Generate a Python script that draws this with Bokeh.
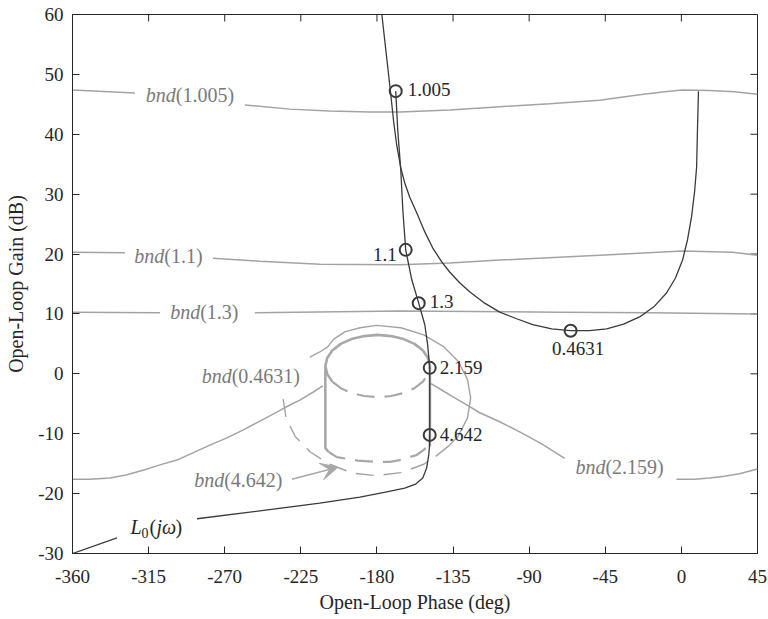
from bokeh.plotting import figure
from bokeh.models import Label, FixedTicker, Arrow, VeeHead
from bokeh.embed import file_html
from bokeh.resources import INLINE

NaN = float("nan")

# ---------------- ticks ----------------
x_ticks = [-360, -315, -270, -225, -180, -135, -90, -45, 0, 45]
x_tick_labels = ["-360", "-315", "-270", "-225", "-180", "-135", "-90", "-45", "0", "45"]
y_ticks = [-30, -20, -10, 0, 10, 20, 30, 40, 50, 60]
y_tick_labels = ["-30", "-20", "-10", "0", "10", "20", "30", "40", "50", "60"]
x_lim = (-360, 45)
y_lim = (-30, 60)

# ---------------- nominal open loop L0(jw) ----------------
l0_phase = [-168.9, -167.7, -165.9, -164.7, -163.0, -159.4, -155.3, -151.7, -150.0, -148.8,
            -148.8, -148.8, -148.9, -149.4, -150.6, -152.9, -157.1, -163.6, -174.2, -190.1,
            -213.8, -255.1, -286.4, NaN, -333.7, -360.0]
l0_gain = [47.2, 40.7, 34.0, 27.4, 20.7, 15.7, 11.8, 8.2, 4.8, 1.0,
           -4.4, -10.2, -12.0, -13.6, -15.7, -17.4, -18.4, -19.1, -19.7, -20.6,
           -21.6, -23.1, -24.2, NaN, -27.4, -30.0]

# U-shaped dark curve through the 0.4631 point
u_phase = [-177.1, -175.4, -173.6, -171.8, -170.1, -168.3, -165.9, -163.6, -160.6, -156.5,
           -151.7, -147.0, -141.7, -137.0, -131.1, -125.2, -116.3, -107.4, -97.4, -87.9,
           -76.7, -65.5, -54.3, -44.2, -34.2, -24.7, -15.9, -8.8, -3.5, 0.7,
           3.6, 6.0, 7.8, 9.0, 9.5, 10.1]
u_gain = [60.0, 55.7, 51.2, 46.6, 42.05, 38.2, 34.4, 31.9, 29.5, 26.9,
          23.7, 21.0, 18.7, 17.0, 15.2, 13.7, 11.8, 10.3, 9.2, 8.2,
          7.5, 7.2, 7.2, 7.5, 8.3, 9.5, 11.3, 13.5, 16.0, 19.0,
          22.35, 26.2, 30.4, 34.5, 40.7, 47.2]

# frequency markers
marker_freqs = ["1.005", "1.1", "1.3", "2.159", "4.642", "0.4631"]
marker_phase = [-168.9, -163.0, -155.3, -148.8, -148.8, -65.5]
marker_gain = [47.2, 20.7, 11.8, 1.0, -10.2, 7.2]

# ---------------- bounds ----------------
bnd1005_phase = [-360, -323.1, NaN, -258.1, -231.5, -207.9, -184.2, -166.5, -137.0, -107.4,
                 -77.9, -48.4, -24.7, -10.0, 0.7, 16.6, 31.4, 45]
bnd1005_gain = [47.4, 46.9, NaN, 44.9, 44.2, 43.9, 43.7, 43.7, 44.05, 44.6,
                45.1, 45.7, 46.6, 47.1, 47.4, 47.3, 47.1, 46.7]

bnd11_phase = [-360, -329.0, NaN, -277.0, -249.2, -213.8, -166.5, -137.0, -107.4, -48.4, 0.7, 30.2, 45]
bnd11_gain = [20.3, 20.2, NaN, 19.3, 18.8, 18.3, 18.2, 18.5, 19.0, 19.8, 20.5, 20.3, 19.8]

bnd13_phase = [-360, -308.3, NaN, -252.2, -166.5, -72.0, -18.8, 45]
bnd13_gain = [10.3, 10.2, NaN, 10.2, 10.5, 10.3, 10.2, 10.0]

bnd2159_phase = [-360, -349.7, -337.8, -328.4, -318.3, -308.3, -298.3, -288.8, -278.8, -268.7,
                 -259.3, -249.2, -239.2, -231.5, -225.6, -218.5, -212.0, NaN,
                 -148.8, -141.7, -134.0, -126.9, -119.2, -107.4, -95.6, -82.6, -69.0, NaN,
                 -2.9, 7.8, 16.6, 25.5, 34.4, 45]
bnd2159_gain = [-17.6, -17.6, -17.4, -16.9, -16.1, -15.2, -14.4, -13.2, -11.9, -10.7,
                -9.4, -7.9, -6.4, -5.2, -4.4, -3.2, -2.0, NaN,
                -1.5, -2.7, -4.0, -5.2, -6.5, -8.0, -9.7, -11.7, -14.1, NaN,
                -17.6, -17.6, -17.4, -17.1, -16.7, -15.9]

# closed bound around the template (solid upper part, dashed lower part)
bnd04631_solid_phase = [-219.7, -213.8, -209.1, -205.5, -199.0, -190.1, -180.1, -165.9, -152.3,
                        -140.8, -132.0, -126.5, -124.6, -126.5, -132.0, -137.0]
bnd04631_solid_gain = [2.8, 3.65, 4.5, 5.8, 7.0, 7.7, 8.1, 7.7, 6.5,
                       4.6, 2.1, -0.9, -4.0, -7.4, -10.4, -11.9]
bnd04631_dash_phase = [-137.0, -145.8, -152.3, -165.9, -180.1, -194.3, -207.9, -219.4, -228.2,
                       -233.7, -235.6, -235.0]
bnd04631_dash_gain = [-11.9, -13.9, -15.1, -16.5, -17.0, -16.6, -15.1, -13.05, -10.5,
                      -7.4, -4.0, -2.7]

# template "cylinder"
cyl_solid_phase = [-210.5, -209.4, -206.4, -201.4, -195.1, -187.6, -179.6, -171.6, -164.2, -157.8,
                   -152.8, -149.8, -148.7, NaN,
                   -206.4, -209.4, -210.5, -210.5, -208.5, NaN,
                   -148.7, -148.7]
cyl_solid_gain = [1.3, 2.65, 3.9, 5.0, 5.8, 6.3, 6.5, 6.3, 5.8, 5.0,
                  3.9, 2.65, 1.3, NaN,
                  -1.3, -0.05, 1.3, -12.4, -13.05, NaN,
                  1.3, -12.1]
cyl_dash_phase = [-206.4, -201.4, -195.1, -187.6, -179.6, -171.6, -164.2, -157.8, -152.8, -149.8,
                  -148.7, NaN,
                  -208.5, -203.7, -191.3, -180.1, -172.4, -166.5, -156.5, -152.3, -150.0, -148.7]
cyl_dash_gain = [-1.3, -2.4, -3.2, -3.7, -3.9, -3.7, -3.2, -2.4, -1.3, -0.05,
                 1.3, NaN,
                 -13.05, -13.9, -14.5, -14.7, -14.7, -14.4, -13.55, -12.7, -12.05, -12.1]

# bound labels: value text, phase of split between "bnd" and "(...)", gain
bnd_label_values = ["(1.005)", "(1.1)", "(1.3)", "(0.4631)", "(4.642)", "(2.159)"]
bnd_label_phase = [-298.9, -305.7, -284.5, -265.9, -270.3, -44.9]
bnd_label_gain = [46.6, 19.6, 10.4, -0.4, -17.7, -15.6]

# frequency marker label placement
mlabel_phase = [-161.8, -168.3, -148.8, -142.9, -142.9, -61.1]
mlabel_gain = [47.4, 20.0, 12.0, 1.0, -10.2, 4.3]
mlabel_align = ["left", "right", "left", "left", "left", "center"]

arrow_start = (-230.3, -17.6)
arrow_end = (-203.1, -15.6)

l0_label_pos = (-325.7, -25.6)

# ---------------- styles ----------------
FONT = "Liberation Serif"
AXIS = "#262626"
DARK = "#3a3a3a"
GRAY = "#a3a3a3"
CYL = "#a8a8a8"
GRAYTXT = "#7a7a7a"
FRAME_W, FRAME_H = 685, 539
TICK_LEN = 7

p = figure(frame_width=FRAME_W, frame_height=FRAME_H, x_range=x_lim, y_range=y_lim,
           output_backend="svg", toolbar_location=None,
           min_border_left=72, min_border_right=10, min_border_top=14, min_border_bottom=50,
           background_fill_color="white", border_fill_color="white")
p.outline_line_color = AXIS
p.outline_line_width = 1
p.xgrid.visible = False
p.ygrid.visible = False

xa = p.below[0]
ya = p.left[0]
xa.ticker = FixedTicker(ticks=x_ticks)
ya.ticker = FixedTicker(ticks=y_ticks)
xa.major_label_overrides = {t: s for t, s in zip(x_ticks, x_tick_labels)}
ya.major_label_overrides = {t: s for t, s in zip(y_ticks, y_tick_labels)}
xa.axis_label = "Open-Loop Phase (deg)"
ya.axis_label = "Open-Loop Gain (dB)"

for ax in (xa, ya):
    ax.axis_line_color = AXIS
    ax.axis_line_width = 1
    ax.major_tick_line_color = AXIS
    ax.major_tick_in = TICK_LEN
    ax.major_tick_out = 0
    ax.minor_tick_line_color = None
    ax.major_label_text_font = FONT
    ax.major_label_text_color = AXIS
    ax.major_label_text_font_size = "19px"
    ax.axis_label_text_font = FONT
    ax.axis_label_text_font_style = "normal"
    ax.axis_label_text_color = AXIS
    ax.axis_label_text_font_size = "20px"
xa.major_label_standoff = 16
xa.axis_label_standoff = 5
ya.major_label_standoff = 9
ya.axis_label_standoff = 8

# inward ticks on the top and right edges of the box
dy_tick = TICK_LEN * (y_lim[1] - y_lim[0]) / FRAME_H
dx_tick = TICK_LEN * (x_lim[1] - x_lim[0]) / FRAME_W
p.segment(x0=x_ticks, y0=[y_lim[1]] * len(x_ticks), x1=x_ticks,
          y1=[y_lim[1] - dy_tick] * len(x_ticks), line_color=AXIS, line_width=1)
p.segment(x0=[x_lim[1]] * len(y_ticks), y0=y_ticks, x1=[x_lim[1] - dx_tick] * len(y_ticks),
          y1=y_ticks, line_color=AXIS, line_width=1)

# bounds
for xs, ys in ((bnd1005_phase, bnd1005_gain), (bnd11_phase, bnd11_gain),
               (bnd13_phase, bnd13_gain), (bnd2159_phase, bnd2159_gain)):
    p.line(xs, ys, line_color=GRAY, line_width=1.5)
p.line(bnd04631_solid_phase, bnd04631_solid_gain, line_color=GRAY, line_width=1.4)
p.line(bnd04631_dash_phase, bnd04631_dash_gain, line_color=GRAY, line_width=1.4, line_dash="18 10")

# template cylinder
p.line(cyl_solid_phase, cyl_solid_gain, line_color=CYL, line_width=2.6)
p.line(cyl_dash_phase, cyl_dash_gain, line_color=CYL, line_width=2.2, line_dash="18 10")

# arrow
p.add_layout(Arrow(end=VeeHead(size=17, fill_color=CYL, line_color=CYL, line_width=1),
                   x_start=arrow_start[0], y_start=arrow_start[1],
                   x_end=arrow_end[0], y_end=arrow_end[1],
                   line_color=CYL, line_width=1.4))

# dark curves
p.line(u_phase, u_gain, line_color=DARK, line_width=1.3)
p.line(l0_phase, l0_gain, line_color=DARK, line_width=1.3)
p.scatter(marker_phase, marker_gain, marker="circle", size=12, fill_color=None,
          line_color=DARK, line_width=2)


def add_label(x, y, text, size, color, style="normal", align="left", x_offset=0):
    p.add_layout(Label(x=x, y=y, text=text, text_font=FONT, text_font_size=f"{size}px",
                       text_color=color, text_font_style=style, text_align=align,
                       text_baseline="middle", x_offset=x_offset))


for txt, x, y in zip(bnd_label_values, bnd_label_phase, bnd_label_gain):
    add_label(x, y, "bnd", 20, GRAYTXT, "italic", "right")
    add_label(x, y, txt, 20, GRAYTXT, "normal", "left")

for txt, x, y, al in zip(marker_freqs, mlabel_phase, mlabel_gain, mlabel_align):
    add_label(x, y, txt, 19, AXIS, "normal", al)

# L0(jw) label
lx, ly = l0_label_pos
add_label(lx, ly, "L", 20, AXIS, "italic", "left", 0)
add_label(lx, ly - 0.9, "0", 14, AXIS, "normal", "left", 11)
add_label(lx, ly, "(", 20, AXIS, "normal", "left", 19)
add_label(lx, ly, "jω", 20, AXIS, "italic", "left", 26)
add_label(lx, ly, ")", 20, AXIS, "normal", "left", 45)

open("out.html", "w").write(file_html(p, INLINE))
